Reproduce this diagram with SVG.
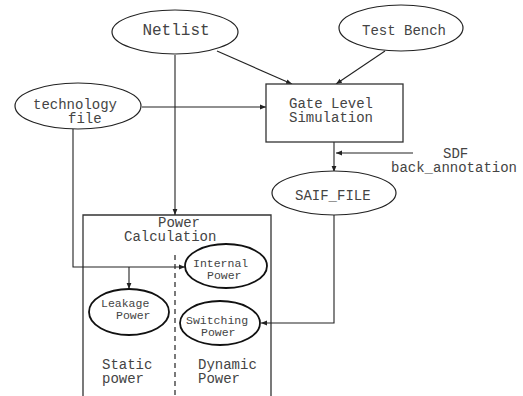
<svg xmlns="http://www.w3.org/2000/svg" width="523" height="396" viewBox="0 0 523 396">
  <defs>
    <marker id="arrow" viewBox="0 0 10 10" refX="10" refY="5" markerWidth="6" markerHeight="6" markerUnits="userSpaceOnUse" orient="auto">
      <path d="M0,1 L10,5 L0,9 z" fill="#222"/>
    </marker>
    <style>
      .bg { fill: #ffffff; }
      .node { fill: #ffffff; stroke: #222; stroke-width: 1.2; }
      .sub { fill: #ffffff; stroke: #111; stroke-width: 1.8; }
      .box { fill: #ffffff; stroke: #333; stroke-width: 1.3; }
      .frame { fill: none; stroke: #333; stroke-width: 1.3; }
      .edge { fill: none; stroke: #222; stroke-width: 1.1; }
      .arr { marker-end: url(#arrow); }
      .dash { fill: none; stroke: #222; stroke-width: 1.2; stroke-dasharray: 5 4; }
      text { font-family: "Liberation Mono", "Courier New", monospace; fill: #444; }
      .t14 { font-size: 14px; }
      .t16 { font-size: 16px; }
      .t12 { font-size: 11.5px; }
    </style>
  </defs>

  <rect class="bg" x="0" y="0" width="523" height="396"/>

  <!-- Power calculation frame (open at the bottom) -->
  <g id="power-calculation">
    <path class="frame" d="M83,396 V215 H271 V396"/>
    <text class="t14" x="158" y="227">Power</text>
    <text class="t14" x="124" y="241">Calculation</text>
    <line class="dash" x1="175" y1="255" x2="175" y2="396"/>
    <text class="t14" x="102" y="369">Static</text>
    <text class="t14" x="102" y="383">power</text>
    <text class="t14" x="198" y="369">Dynamic</text>
    <text class="t14" x="198" y="383">Power</text>
  </g>

  <!-- Connectors -->
  <g id="connectors">
    <line class="edge arr" x1="217" y1="51" x2="292" y2="84"/>
    <line class="edge arr" x1="385" y1="51" x2="336" y2="84"/>
    <line class="edge arr" x1="142" y1="107" x2="266" y2="107"/>
    <line class="edge arr" x1="175" y1="55" x2="175" y2="215"/>
    <polyline class="edge arr" points="73,129 73,267 185,267"/>
    <line class="edge arr" x1="129" y1="267" x2="129" y2="289"/>
    <line class="edge arr" x1="334" y1="142" x2="334" y2="172"/>
    <line class="edge arr" x1="413" y1="153" x2="336" y2="153"/>
    <polyline class="edge arr" points="334,215 334,323 261,323"/>
  </g>

  <g id="netlist">
    <ellipse class="node" cx="175" cy="32" rx="63" ry="22"/>
    <text class="t16" x="176" y="35" text-anchor="middle">Netlist</text>
  </g>

  <g id="test-bench">
    <ellipse class="node" cx="401" cy="28" rx="62" ry="23"/>
    <text class="t14" x="404" y="35" text-anchor="middle">Test Bench</text>
  </g>

  <g id="technology-file">
    <ellipse class="node" cx="78" cy="106" rx="63" ry="23"/>
    <text class="t14" x="33" y="109">technology</text>
    <text class="t14" x="68" y="123">file</text>
  </g>

  <g id="gate-level-simulation">
    <rect class="box" x="266" y="84" width="137" height="58"/>
    <text class="t14" x="289" y="108">Gate Level</text>
    <text class="t14" x="289" y="122">Simulation</text>
  </g>

  <g id="sdf-label">
    <text class="t14" x="443" y="158">SDF</text>
    <text class="t14" x="391" y="172">back_annotation</text>
  </g>

  <g id="saif-file">
    <ellipse class="node" cx="334" cy="193" rx="62" ry="22"/>
    <text class="t14" x="295" y="200">SAIF_FILE</text>
  </g>

  <g id="internal-power">
    <ellipse class="sub" cx="226" cy="266" rx="41" ry="22"/>
    <text class="t12" x="193" y="267">Internal</text>
    <text class="t12" x="207" y="279">Power</text>
  </g>

  <g id="leakage-power">
    <ellipse class="sub" cx="129" cy="312" rx="40" ry="23"/>
    <text class="t12" x="101" y="307">Leakage</text>
    <text class="t12" x="116" y="319">Power</text>
  </g>

  <g id="switching-power">
    <ellipse class="sub" cx="220" cy="323" rx="40" ry="22"/>
    <text class="t12" x="186" y="324">Switching</text>
    <text class="t12" x="201" y="336">Power</text>
  </g>
</svg>
